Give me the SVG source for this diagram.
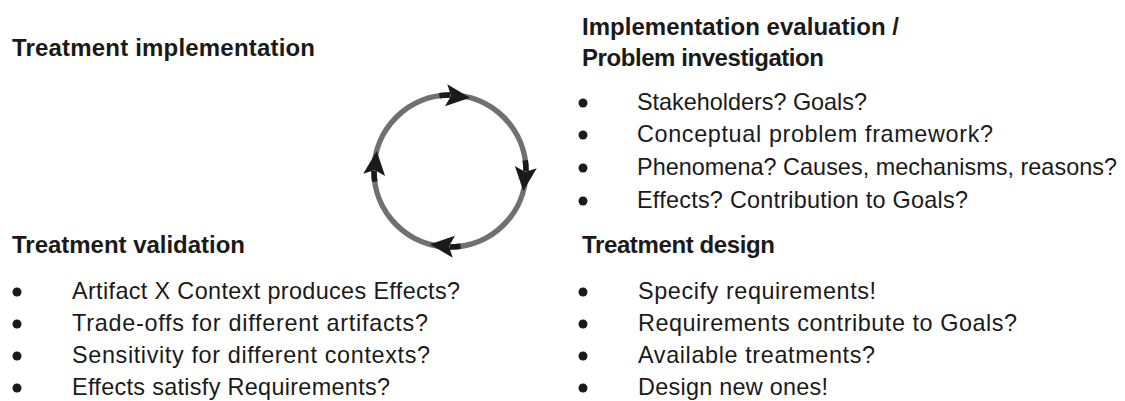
<svg xmlns="http://www.w3.org/2000/svg" width="1125" height="401" viewBox="0 0 1125 401">
<style>
.t{font-family:"Liberation Sans",Arial,sans-serif;font-weight:bold;font-size:24px;fill:#1a1a1a}
.b{font-family:"Liberation Sans",Arial,sans-serif;font-size:23.4px;fill:#1a1a1a}
.dot{fill:#1a1a1a}
.ring{fill:none;stroke:#707070;stroke-width:5.5}
.shaft{fill:none;stroke:#1a1a1a;stroke-width:5.5}
.head{fill:#1a1a1a}
</style>
<defs>
<g id="arrow">
<path class="shaft" d="M439.4,95.7 A76,76 0 0 1 450,95"/>
<polygon class="head" transform="translate(470,97.7) rotate(6)" points="0,0 -24,-11 -19,0 -24,11"/>
</g>
</defs>
<rect width="1125" height="401" fill="#ffffff"/>
<g id="connectors">
<circle class="ring" cx="450" cy="171" r="76"/>
<use href="#arrow"/>
<use href="#arrow" transform="rotate(90 450 171)"/>
<use href="#arrow" transform="rotate(180 450 171)"/>
<use href="#arrow" transform="rotate(270 450 171)"/>
</g>
<g id="treatment-implementation">
<text class="t" x="12" y="56" textLength="303">Treatment implementation</text>
</g>
<g id="problem-investigation">
<text class="t" x="582" y="35" textLength="317">Implementation evaluation /</text>
<text class="t" x="582" y="66" textLength="242">Problem investigation</text>
<circle class="dot" cx="583" cy="103" r="4.5"/>
<text class="b" x="637" y="110" textLength="230">Stakeholders? Goals?</text>
<circle class="dot" cx="583" cy="135" r="4.5"/>
<text class="b" x="637" y="142" textLength="356">Conceptual problem framework?</text>
<circle class="dot" cx="583" cy="168" r="4.5"/>
<text class="b" x="637" y="175" textLength="480">Phenomena? Causes, mechanisms, reasons?</text>
<circle class="dot" cx="583" cy="201" r="4.5"/>
<text class="b" x="637" y="208" textLength="331">Effects? Contribution to Goals?</text>
</g>
<g id="treatment-validation">
<text class="t" x="12" y="253" textLength="233">Treatment validation</text>
<circle class="dot" cx="17" cy="292" r="4.5"/>
<text class="b" x="72" y="299" textLength="388">Artifact X Context produces Effects?</text>
<circle class="dot" cx="17" cy="324" r="4.5"/>
<text class="b" x="72" y="331" textLength="356">Trade-offs for different artifacts?</text>
<circle class="dot" cx="17" cy="356" r="4.5"/>
<text class="b" x="72" y="363" textLength="358">Sensitivity for different contexts?</text>
<circle class="dot" cx="17" cy="388" r="4.5"/>
<text class="b" x="72" y="395" textLength="318">Effects satisfy Requirements?</text>
</g>
<g id="treatment-design">
<text class="t" x="582" y="253" textLength="193">Treatment design</text>
<circle class="dot" cx="583" cy="292" r="4.5"/>
<text class="b" x="638" y="299" textLength="238">Specify requirements!</text>
<circle class="dot" cx="583" cy="324" r="4.5"/>
<text class="b" x="638" y="331" textLength="379">Requirements contribute to Goals?</text>
<circle class="dot" cx="583" cy="356" r="4.5"/>
<text class="b" x="638" y="363" textLength="237">Available treatments?</text>
<circle class="dot" cx="583" cy="388" r="4.5"/>
<text class="b" x="638" y="395" textLength="190">Design new ones!</text>
</g>
</svg>
